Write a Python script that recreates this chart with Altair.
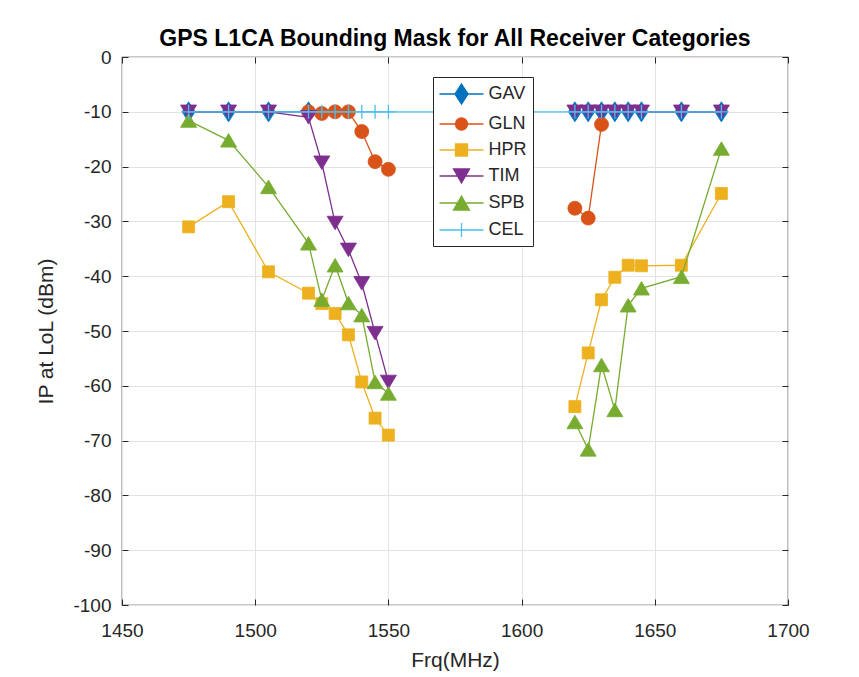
import altair as alt
import pandas as pd

# ---- data ----
FREQ = [1475, 1490, 1505, 1520, 1525, 1530, 1535, 1540, 1545, 1550,
        1620, 1625, 1630, 1635, 1640, 1645, 1660, 1675]
SEGMENT = ["L", "L", "L", "L", "L", "L", "L", "L", "L", "L",
           "R", "R", "R", "R", "R", "R", "R", "R"]
GAV = [-10, -10, -10, -10, None, None, None, None, None, None,
       -10, -10, -10, -10, -10, -10, -10, -10]
GLN = [None, None, None, -10.0, -10.3, -10.0, -10.0, -13.6, -19.1, -20.5,
       -27.6, -29.4, -12.3, None, None, None, None, None]
HPR = [-31.0, -26.4, -39.2, -43.1, -45.0, -46.8, -50.7, -59.3, -65.9, -69.0,
       -63.8, -54.0, -44.3, -40.2, -38.0, -38.1, -38.0, -24.9]
TIM = [-10, -10, -10, -11.0, -19.3, -30.3, -35.2, -41.3, -50.4, -59.3,
       -10, -10, -10, -10, -10, -10, -10, -10]
SPB = [-11.6, -15.2, -23.7, -34.0, -44.3, -38.0, -44.9, -47.1, -59.3, -61.4,
       -66.6, -71.6, -56.2, -64.4, -45.3, -42.2, -40.1, -16.7]
CEL = [-10, -10, -10, -10, -10, -10, -10, -10, -10, -10,
       -10, -10, -10, -10, -10, -10, -10, -10]

NAMES = ["GAV", "GLN", "HPR", "TIM", "SPB", "CEL"]
SERIES = [GAV, GLN, HPR, TIM, SPB, CEL]
COLORS = ["#0072BD", "#D95319", "#EDB120", "#7E2F8E", "#77AC30", "#4DBEEE"]
X_TICKS = [1450, 1500, 1550, 1600, 1650, 1700]
Y_TICKS = [-100, -90, -80, -70, -60, -50, -40, -30, -20, -10, 0]

# ---- styles ----
FONT = "Liberation Sans"
PLOT_SHAPES = {
    "GAV": "M0,-1L0.65,0L0,1L-0.65,0Z",
    "GLN": "circle",
    "HPR": "square",
    "TIM": "M-1,-0.85L1,-0.85L0,0.85Z",
    "SPB": "M-1,0.85L1,0.85L0,-0.85Z",
    "CEL": "M-1,0L1,0M0,-1L0,1",
}
PLOT_SIZES = {"GAV": 400, "GLN": 196, "HPR": 144, "TIM": 256, "SPB": 256, "CEL": 196}
LEGEND_SHAPES = [
    "M-2.2,0L2.2,0M0,-1L0.65,0L0,1L-0.65,0Z",
    "M-2.2,0L2.2,0M-0.6,0A0.6,0.6 0 1,0 0.6,0A0.6,0.6 0 1,0 -0.6,0Z",
    "M-2.2,0L2.2,0M-0.6,-0.6L0.6,-0.6L0.6,0.6L-0.6,0.6Z",
    "M-2.2,0L2.2,0M-0.8,-0.7L0.8,-0.7L0,0.7Z",
    "M-2.2,0L2.2,0M-0.8,0.7L0.8,0.7L0,-0.7Z",
    "M-2.2,0L2.2,0M0,-0.7L0,0.7",
]

rows = []
for name, vals in zip(NAMES, SERIES):
    for f, v, s in zip(FREQ, vals, SEGMENT):
        if v is not None:
            rows.append({"series": name, "freq": f, "ip": v, "seg": s})
df = pd.DataFrame(rows)

x_scale = alt.Scale(domain=[1450, 1700], nice=False, zero=False)
y_scale = alt.Scale(domain=[-100, 0], nice=False, zero=False)

main_x_axis = alt.Axis(values=X_TICKS, format="d", title="Frq(MHz)", grid=True,
                       domain=False, offset=-6, tickSize=6, labelPadding=16,
                       labelFlush=False, titlePadding=9)
main_y_axis = alt.Axis(values=Y_TICKS, labelExpr="'' + datum.value",
                       title="IP at LoL (dBm)", grid=True, domain=False,
                       offset=-6, tickSize=6, labelPadding=11, labelFlush=False,
                       titlePadding=16)

layers = []
for i, (name, color) in enumerate(zip(NAMES, COLORS)):
    sub = df[df["series"] == name]
    base = alt.Chart(sub)
    if i == 0:
        xenc = alt.X("freq:Q", scale=x_scale, axis=main_x_axis)
        yenc = alt.Y("ip:Q", scale=y_scale, axis=main_y_axis)
    else:
        xenc = alt.X("freq:Q", scale=x_scale, axis=None)
        yenc = alt.Y("ip:Q", scale=y_scale, axis=None)
    if name == "CEL":
        line = base.mark_line(color=color, strokeWidth=1.3).encode(x=xenc, y=yenc)
    else:
        line = base.mark_line(color=color, strokeWidth=1.3).encode(
            x=xenc, y=yenc, detail="seg:N")
    px = alt.X("freq:Q", scale=x_scale, axis=None)
    py = alt.Y("ip:Q", scale=y_scale, axis=None)
    if name != "CEL":
        pts = base.mark_point(filled=True, shape=PLOT_SHAPES[name],
                              size=PLOT_SIZES[name], fill=color, stroke=color,
                              strokeWidth=0.8, opacity=1, fillOpacity=1).encode(x=px, y=py)
    else:
        pts = base.mark_point(filled=False, shape=PLOT_SHAPES[name],
                              size=PLOT_SIZES[name], stroke=color,
                              strokeWidth=1.3, opacity=1).encode(x=px, y=py)
    layers.append(line)
    layers.append(pts)

leg_df = pd.DataFrame({"series": NAMES, "freq": [FREQ[0]] * 6, "ip": [CEL[0]] * 6})
legend = alt.Legend(orient="none", legendX=311, legendY=20, title=None,
                    padding=6, symbolOffset=11.5, labelOffset=16, rowPadding=6,
                    strokeColor="#262626", fillColor="white",
                    labelFont=FONT, labelFontSize=18, labelColor="#262626",
                    symbolSize=400, symbolStrokeWidth=1.3, symbolOpacity=1,
                    symbolFillColor="white")
color_scale = alt.Scale(domain=NAMES, range=COLORS)
legend_layer = alt.Chart(leg_df).mark_point(filled=True, opacity=0).encode(
    x=alt.X("freq:Q", scale=x_scale,
            axis=alt.Axis(orient="top", values=X_TICKS, labels=False, grid=False,
                          domain=False, offset=-6, tickSize=6, title=None)),
    y=alt.Y("ip:Q", scale=y_scale,
            axis=alt.Axis(orient="right", values=Y_TICKS, labels=False, grid=False,
                          domain=False, offset=-6, tickSize=6, title=None)),
    fill=alt.Fill("series:N", scale=color_scale, legend=legend, sort=NAMES),
    stroke=alt.Stroke("series:N", scale=color_scale, legend=legend, sort=NAMES),
    shape=alt.Shape("series:N", scale=alt.Scale(domain=NAMES, range=LEGEND_SHAPES),
                    legend=legend, sort=NAMES),
)

chart = alt.layer(*layers, legend_layer).resolve_axis(
    x="independent", y="independent"
).properties(
    width=666, height=548, background="white",
    title=alt.TitleParams(text="GPS L1CA Bounding Mask for All Receiver Categories",
                          font=FONT, fontSize=23, fontWeight="bold", color="black",
                          anchor="middle", offset=-3),
    autosize=alt.AutoSizeParams(type="none"),
    padding={"left": 122, "top": 57, "right": 71, "bottom": 72},
).configure_view(
    stroke="#262626", strokeWidth=1.2
).configure_axis(
    gridColor="#e3e3e3", gridWidth=1, gridOpacity=1, tickColor="#262626",
    tickWidth=1, labelColor="#262626", labelFont=FONT, labelFontSize=19,
    titleFont=FONT, titleFontSize=21, titleFontWeight="normal", titleColor="#262626",
)

chart.save("out.html", embed_options={"renderer": "svg", "actions": False})
